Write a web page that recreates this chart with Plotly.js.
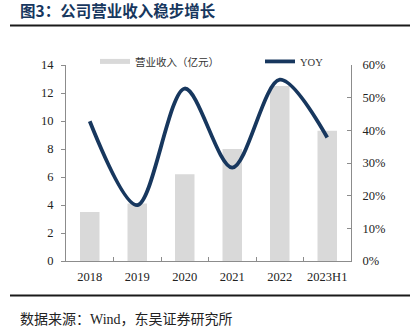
<!DOCTYPE html>
<html>
<head>
<meta charset="utf-8">
<script src="https://cdn.plot.ly/plotly-3.0.1.min.js"></script>
<style>html,body{margin:0;padding:0;background:#fff;}#chart{width:414px;height:335px;}</style>
</head>
<body>
<div id="chart"></div>
<script>
const categories = ["2018", "2019", "2020", "2021", "2022", "2023H1"];
const revenue = [3.5, 4.1, 6.2, 8.0, 12.5, 9.3];
const yoy = [0.428, 0.171, 0.528, 0.286, 0.555, 0.378];
const leftTicks = [0, 2, 4, 6, 8, 10, 12, 14];
const rightTicks = [0, 0.1, 0.2, 0.3, 0.4, 0.5, 0.6];

const serif = "Liberation Serif, Times New Roman, Noto Sans CJK SC, serif";
const cjk = "Noto Sans CJK SC, sans-serif";
const navy = "#17375e";
const gray = "#d9d9d9";
const axisGray = "#8c8c8c";

const traces = [
  {type: "bar", x: categories, y: revenue, name: "营业收入（亿元）", marker: {color: gray}, showlegend: false, yaxis: "y", hoverinfo: "skip"},
  {type: "scatter", mode: "lines", x: [null], y: [null], name: "营业收入（亿元）", line: {color: gray, width: 5}, yaxis: "y", legend: "legend"},
  {type: "scatter", mode: "lines", x: categories, y: yoy, name: "YOY", line: {color: navy, width: 3.8, shape: "spline", smoothing: 0.9}, yaxis: "y2", legend: "legend2"}
];

const legendY = (261.3 - 61) / 196.7;
const layout = {
  width: 414, height: 335,
  margin: {l: 66, r: 63, t: 65, b: 74},
  paper_bgcolor: "#fff", plot_bgcolor: "#fff",
  bargap: 0.59,
  title: {text: "<b>图3：公司营业收入稳步增长</b>", x: 20/414, xanchor: "left", xref: "container", y: 1 - 12/335, yanchor: "middle", yref: "container", font: {family: cjk, size: 15.5, color: navy}},
  xaxis: {type: "category", categoryorder: "array", categoryarray: categories, showline: true, linecolor: axisGray, linewidth: 1, ticks: "inside", ticklen: 4, tickcolor: axisGray, tickson: "boundaries", tickangle: 0, tickfont: {family: serif, size: 12.5, color: "#222"}, ticklabelstandoff: 4, showgrid: false, zeroline: false, fixedrange: true},
  yaxis: {range: [0, 14], tickvals: leftTicks, ticktext: leftTicks.map(String), showline: true, linecolor: axisGray, linewidth: 1, ticks: "outside", ticklen: 4, tickcolor: axisGray, tickfont: {family: serif, size: 12.5, color: "#222"}, ticklabelstandoff: 5, showgrid: false, zeroline: false},
  yaxis2: {range: [0, 0.6], overlaying: "y", side: "right", tickvals: rightTicks, ticktext: rightTicks.map(v => Math.round(v*100) + "%"), showline: true, linecolor: axisGray, linewidth: 1, ticks: "inside", ticklen: 4, tickcolor: axisGray, tickfont: {family: serif, size: 12.5, color: "#222"}, ticklabelstandoff: 8, showgrid: false, zeroline: false},
  legend: {orientation: "h", x: (95-66)/285, xanchor: "left", y: legendY, yanchor: "middle", bgcolor: "#fff", font: {family: cjk, size: 10.5, color: "#333"}, itemwidth: 30},
  legend2: {orientation: "h", x: (260-66)/285, xanchor: "left", y: legendY, yanchor: "middle", bgcolor: "#fff", font: {family: serif, size: 10.5, color: "#333"}, itemwidth: 30},
  shapes: [
    {type: "line", xref: "paper", yref: "paper", x0: (10-66)/285, x1: (410-66)/285, y0: (261.3-25)/196.7, y1: (261.3-25)/196.7, line: {color: "#1a1a1a", width: 2}},
    {type: "line", xref: "paper", yref: "paper", x0: (10-66)/285, x1: (410-66)/285, y0: (261.3-296)/196.7, y1: (261.3-296)/196.7, line: {color: "#1a1a1a", width: 2}}
  ],
  annotations: [
    {text: "数据来源：Wind，东吴证券研究所", xref: "paper", yref: "paper", x: (18-66)/285, y: (261.3-320)/196.7, xanchor: "left", yanchor: "middle", showarrow: false, font: {family: serif, size: 14, color: "#222"}}
  ]
};

Plotly.newPlot("chart", traces, layout, {displayModeBar: false, staticPlot: true});
</script>
</body>
</html>
